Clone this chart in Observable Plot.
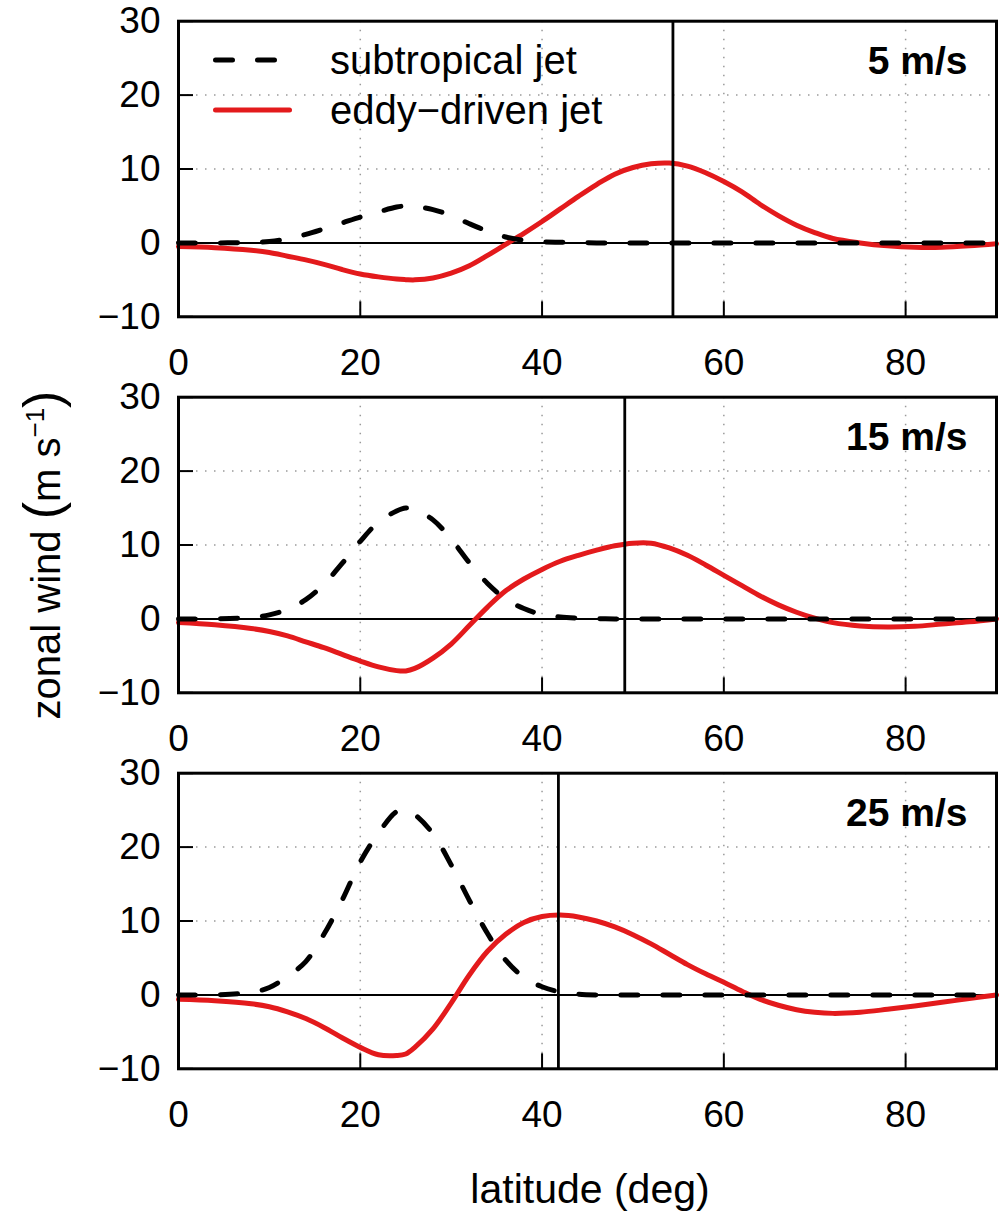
<!DOCTYPE html>
<html>
<head>
<meta charset="utf-8">
<script src="https://cdn.jsdelivr.net/npm/d3@7"></script>
<script src="https://cdn.jsdelivr.net/npm/@observablehq/plot@0.6"></script>
<style>
  html, body { margin: 0; padding: 0; background: #fff; }
  #fig { position: relative; width: 1005px; height: 1216px; background: #fff; font-family: "Liberation Sans", Arial, Helvetica, sans-serif; }
  #fig > .panel { position: absolute; left: 0; }
  #overlay { position: absolute; left: 0; top: 0; pointer-events: none; }
</style>
</head>
<body>
<div id="fig"></div>
<script>
// ---- data ----
const lat = [0,4,8,10,12,14,16,18,20,22,24,25,26,28,30,32,34,36,38,40,42,44,46,48,50,52,54,56,58,60,62,64,66,68,70,72,75,78,81,84,87,90];

const sub5  = [0,0,0.05,0.2,0.55,1.15,1.9,2.7,3.5,4.2,4.85,5.0,4.95,4.5,3.7,2.6,1.6,0.8,0.35,0.15,0.08,0.03,0,0,0,0,0,0,0,0,0,0,0,0,0,0,0,0,0,0,0,0];
const eddy5 = [-0.5,-0.65,-1.0,-1.3,-1.8,-2.3,-2.9,-3.6,-4.2,-4.6,-4.9,-4.97,-5.0,-4.75,-4.1,-3.1,-1.7,-0.2,1.3,2.9,4.6,6.3,7.9,9.3,10.2,10.7,10.8,10.4,9.5,8.3,6.9,5.2,3.7,2.4,1.4,0.6,0.0,-0.4,-0.6,-0.6,-0.4,-0.1];

const sub15  = [0,0,0.2,0.55,1.3,2.6,4.7,7.5,10.5,13.1,14.6,15.0,14.8,13.4,10.8,7.6,4.8,2.7,1.4,0.6,0.25,0.1,0.03,0,0,0,0,0,0,0,0,0,0,0,0,0,0,0,0,0,0,0];
const eddy15 = [-0.5,-0.8,-1.3,-1.7,-2.3,-3.1,-3.9,-4.8,-5.7,-6.5,-7.0,-7.05,-6.7,-5.3,-3.4,-0.9,1.6,3.8,5.4,6.7,7.8,8.6,9.3,9.9,10.25,10.25,9.6,8.6,7.3,5.9,4.5,3.1,1.9,0.9,0.1,-0.5,-0.95,-1.1,-1.0,-0.7,-0.4,0];

const sub25  = [0,0,0.35,1.0,2.5,4.5,8.2,12.8,18.0,21.9,24.8,25.0,24.4,21.8,17.6,12.8,8.3,4.7,2.4,1.1,0.4,0.1,0,0,0,0,0,0,0,0,0,0,0,0,0,0,0,0,0,0,0,0];
const eddy25 = [-0.6,-0.8,-1.2,-1.6,-2.3,-3.2,-4.4,-5.8,-7.1,-8.1,-8.2,-8.0,-7.1,-4.6,-1.1,2.7,5.9,8.2,9.8,10.6,10.8,10.55,10.0,9.2,8.15,6.9,5.5,4.1,2.85,1.7,0.5,-0.6,-1.4,-2.0,-2.35,-2.5,-2.35,-1.95,-1.5,-1.0,-0.5,0];

const jetLat = [54.4, 49.1, 41.8];
const panelLabels = ["5 m/s", "15 m/s", "25 m/s"];
const xTicks = [0, 20, 40, 60, 80];
const yTicks = [-10, 0, 10, 20, 30];
const xGrid = [20, 40, 60, 80];
const yGrid = [10, 20];
const legendLabels = ["subtropical jet", "eddy\u2212driven jet"];
const yTitle = "zonal wind";
const xTitle = "latitude (deg)";

// ---- drawing ----
const FONT = '"Liberation Sans", Arial, Helvetica, sans-serif';
const RED = "#e31a1c";
const DASH = "17,25";
const fig = document.getElementById("fig");

const subs = [sub5, sub15, sub25];
const eddies = [eddy5, eddy15, eddy25];
const step = 375.8;
const H = 376;
const mTop = 20.7, mBottom = H - 316.3, mLeft = 178, mRight = 9;
const frameW = 1005 - mLeft - mRight;
const frameH = H - mTop - mBottom;
const TICK = 15;
const fmt = d => d < 0 ? "\u2212" + Math.abs(d) : String(d);

for (let p = 0; p < 3; p++) {
  const subData = lat.map((l, i) => ({lat: l, u: subs[p][i]}));
  const eddyData = lat.map((l, i) => ({lat: l, u: eddies[p][i]}));
  const chart = Plot.plot({
    width: 1005,
    height: H,
    marginLeft: mLeft,
    marginRight: mRight,
    marginTop: mTop,
    marginBottom: mBottom,
    x: {domain: [0, 90]},
    y: {domain: [-10, 30]},
    style: {fontFamily: FONT, fontSize: "37px", color: "black", background: "white", overflow: "visible"},
    marks: [
      Plot.gridX(xGrid, {stroke: "#9a9a9a", strokeOpacity: 1, strokeWidth: 1.5, strokeDasharray: "1.5,7.5"}),
      Plot.gridY(yGrid, {stroke: "#9a9a9a", strokeOpacity: 1, strokeWidth: 1.5, strokeDasharray: "1.5,7.5"}),
      Plot.ruleY([0], {stroke: "black", strokeWidth: 2}),
      Plot.line(eddyData, {x: "lat", y: "u", stroke: RED, strokeWidth: 5, curve: "catmull-rom", strokeLinejoin: "round"}),
      Plot.line(subData, {x: "lat", y: "u", stroke: "black", strokeWidth: 5, strokeDasharray: DASH, strokeLinecap: "round", curve: "catmull-rom"}),
      Plot.ruleX([jetLat[p]], {stroke: "black", strokeWidth: 2.8}),
      Plot.tickX(xTicks, {x: d => d, insetTop: frameH - TICK, stroke: "black", strokeWidth: 2}),
      Plot.tickY(yTicks, {y: d => d, insetRight: frameW - TICK, stroke: "black", strokeWidth: 2}),
      Plot.axisX(xTicks, {anchor: "bottom", tickSize: 0, tickPadding: 32, label: null, tickFormat: fmt, fontSize: 37, fill: "black"}),
      Plot.axisY(yTicks, {anchor: "left", tickSize: 0, tickPadding: 18, label: null, tickFormat: fmt, fontSize: 37, fill: "black"}),
      Plot.frame({stroke: "black", strokeWidth: 3}),
      Plot.text([panelLabels[p]], {text: d => d, frameAnchor: "top-right", dx: -29, dy: 25, lineAnchor: "top", textAnchor: "end", fontWeight: "bold", fontSize: 39, fill: "black"})
    ]
  });
  chart.classList.add("panel");
  chart.style.top = (p * step) + "px";
  fig.appendChild(chart);
}

// overlay: legend and shared axis titles
const svg = d3.select(fig).append("svg")
  .attr("id", "overlay")
  .attr("width", 1005).attr("height", 1216)
  .style("font-family", FONT);

// legend
svg.append("line").attr("x1", 215.5).attr("x2", 274.5).attr("y1", 60).attr("y2", 60)
  .attr("stroke", "black").attr("stroke-width", 5).attr("stroke-dasharray", DASH).attr("stroke-linecap", "round");
svg.append("line").attr("x1", 215.5).attr("x2", 289.5).attr("y1", 110).attr("y2", 110)
  .attr("stroke", RED).attr("stroke-width", 5).attr("stroke-linecap", "round");
svg.append("text").attr("x", 330).attr("y", 74).attr("font-size", 40).attr("fill", "black").text(legendLabels[0]);
svg.append("text").attr("x", 330).attr("y", 124).attr("font-size", 40).attr("fill", "black").text(legendLabels[1]);

// y title
const yt = svg.append("text")
  .attr("transform", "translate(60,555) rotate(-90)")
  .attr("text-anchor", "middle")
  .attr("font-size", 40)
  .attr("fill", "black");
yt.append("tspan").text(yTitle + " ");
yt.append("tspan").attr("font-size", 52).text("(");
yt.append("tspan").text("m s");
yt.append("tspan").attr("font-size", 26).attr("dy", -16).text("\u22121");
yt.append("tspan").attr("font-size", 52).attr("dy", 16).text(")");

// x title
svg.append("text").attr("x", 590).attr("y", 1203).attr("text-anchor", "middle")
  .attr("font-size", 41).attr("fill", "black").text(xTitle);
</script>
</body>
</html>
